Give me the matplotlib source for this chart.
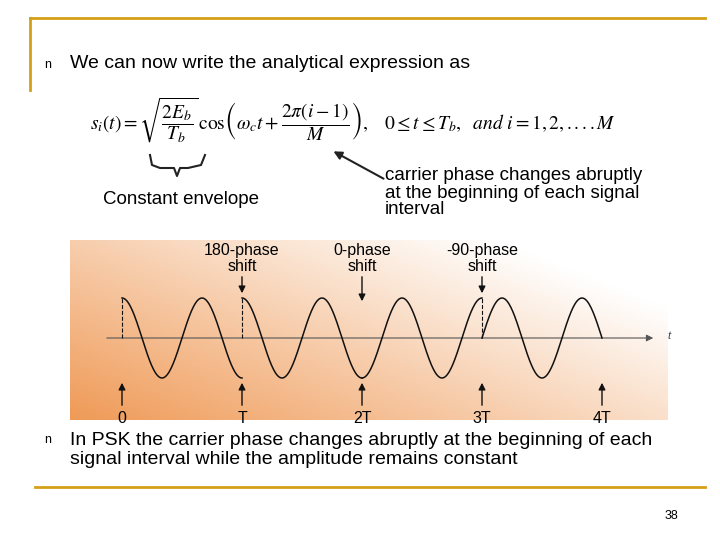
import numpy as np
import matplotlib
matplotlib.use("Agg")
import matplotlib.pyplot as plt
from matplotlib.patches import FancyArrowPatch

plt.rcParams['mathtext.fontset'] = 'stix'
plt.rcParams['font.family'] = ['Liberation Sans', 'DejaVu Sans']

phase_shifts_deg = [180, 0, -90]          # shift applied at T, 2T, 3T
shift_labels = ["180-phase\nshift", "0-phase\nshift", "-90-phase\nshift"]
time_labels = ["0", "T", "2T", "3T", "4T"]
cycles_per_interval = 1.5

fig = plt.figure(figsize=(7.2, 5.4), dpi=100)
bg = fig.add_axes([0, 0, 1, 1])
bg.set_xlim(0, 720); bg.set_ylim(540, 0); bg.axis('off')

gold = '#d4a017'
bg.plot([30, 705], [18, 18], color=gold, lw=2)
bg.plot([30, 30], [18, 90], color=gold, lw=2)
bg.plot([35, 705], [487, 487], color=gold, lw=2)

bg.text(44, 65, "n", fontsize=9, va='center')
bg.text(70, 64, "We can now write the analytical expression as", fontsize=14, va='center')
bg.text(90, 120, r"$s_i(t)=\sqrt{\dfrac{2E_b}{T_b}}\,\cos\!\left(\omega_c t+\dfrac{2\pi(i-1)}{M}\right),\quad 0\leq t\leq T_b,\ \ \mathit{and}\ i=1,2,....M$",
        fontsize=14, va='center')
bx = np.array([150, 152, 160, 174, 177, 180, 188, 201, 205])
by = np.array([155, 165, 168, 168, 176, 168, 168, 165, 155])
bg.plot(bx, by, color='#222', lw=1.5)
bg.text(103, 200, "Constant envelope", fontsize=13.5, va='center')
bg.add_patch(FancyArrowPatch((386, 180), (331, 150), arrowstyle='-|>', mutation_scale=12, color='#222', lw=1.5))
bg.text(385, 193, "carrier phase changes abruptly\nat the beginning of each signal\ninterval", fontsize=13.5, va='center', linespacing=1.0)

bg.text(44, 440, "n", fontsize=9, va='center')
bg.text(70, 450, "In PSK the carrier phase changes abruptly at the beginning of each\nsignal interval while the amplitude remains constant",
        fontsize=14, va='center', linespacing=1.2)
bg.text(665, 516, "38", fontsize=9, va='center')

x0, x1, y0, y1 = 70, 668, 240, 420
ax = fig.add_axes([x0/720, 1-y1/540, (x1-x0)/720, (y1-y0)/540])
ax.set_xlim((70-122)/120, (668-122)/120)
ax.set_ylim(-(420-338)/40, (338-240)/40)
ax.axis('off')
gx = np.linspace(0, 1, 300)[None, :]
gy = np.linspace(0, 1, 150)[:, None]
w = np.clip(0.6*gx + 0.45*gy + 0.12, 0, 1)
orange = np.array([0.93, 0.55, 0.25]); white = np.array([1, 1, 1])
img = orange[None, None, :]*(1-w[..., None]) + white[None, None, :]*w[..., None]
ax.imshow(img, extent=[*ax.get_xlim(), *ax.get_ylim()], aspect='auto', origin='lower', zorder=0)

ax.annotate("", xy=(4.45, 0), xytext=(-0.15, 0),
            arrowprops=dict(arrowstyle='-|>', color='#555', lw=0.8))
ax.text(4.55, 0.05, "t", fontsize=8, style='italic', color='#444', va='center')

phase = 0.0
w_c = 2*np.pi*cycles_per_interval
for k in range(4):
    if k > 0:
        phase += w_c + np.deg2rad(phase_shifts_deg[k-1])
    t = np.linspace(0, 1, 200)
    y = np.cos(w_c*t + phase)
    ax.plot(k + t, y, color='#111', lw=1.1, zorder=3)
    if k in (0, 1, 3):
        ax.plot([k, k], [0, np.cos(phase) if k != 3 else 1.0], color='#111', lw=0.8, ls='--', zorder=3)

for k, lab in enumerate(time_labels):
    ax.annotate("", xy=(k, -1.05), xytext=(k, -1.75),
                arrowprops=dict(arrowstyle='-|>', color='#111', lw=1))
    ax.text(k, -1.82, lab, ha='center', va='top', fontsize=11.5)
for k, lab in enumerate(shift_labels):
    top = 1.05 if k != 1 else 0.85
    ax.annotate("", xy=(k+1, top), xytext=(k+1, 1.6),
                arrowprops=dict(arrowstyle='-|>', color='#111', lw=1))
    ax.text(k+1, 1.6, lab, ha='center', va='bottom', fontsize=11.5, linespacing=1.05)

fig.savefig("out.png", dpi=100)
